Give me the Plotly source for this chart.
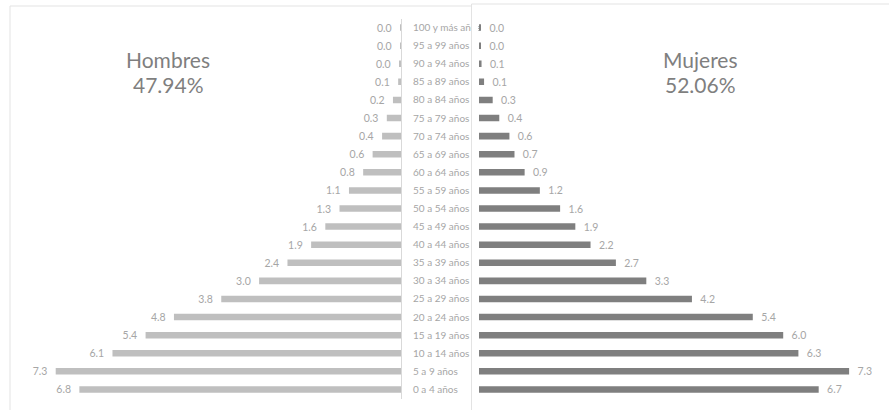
import plotly.graph_objects as go

W, H = 889, 410

categorias = ["100 y más años", "95 a 99 años", "90 a 94 años", "85 a 89 años", "80 a 84 años",
              "75 a 79 años", "70 a 74 años", "65 a 69 años", "60 a 64 años", "55 a 59 años",
              "50 a 54 años", "45 a 49 años", "40 a 44 años", "35 a 39 años", "30 a 34 años",
              "25 a 29 años", "20 a 24 años", "15 a 19 años", "10 a 14 años", "5 a 9 años", "0 a 4 años"]
hombres = [0.004, 0.01, 0.03, 0.06, 0.17, 0.3, 0.4, 0.6, 0.8, 1.1, 1.3, 1.6, 1.9, 2.4, 3.0,
           3.8, 4.8, 5.4, 6.1, 7.3, 6.8]
mujeres = [0.02, 0.03, 0.05, 0.1, 0.27, 0.4, 0.6, 0.7, 0.9, 1.2, 1.6, 1.9, 2.2, 2.7, 3.3,
           4.2, 5.4, 6.0, 6.3, 7.3, 6.7]
titulo_h = ["Hombres", "47.94%"]
titulo_m = ["Mujeres", "52.06%"]

FONT = "Lato"
LBL = "#A6A6A6"

fig = go.Figure()
fig.add_trace(go.Bar(
    y=categorias, x=hombres, orientation="h", xaxis="x", yaxis="y",
    marker=dict(color="#BFBFBF", line=dict(width=0)),
    texttemplate="%{x:.1f}\u00a0\u00a0", textposition="outside", cliponaxis=False,
    constraintext="none",
    textfont=dict(family=FONT, size=10.5, color=LBL), hoverinfo="skip", showlegend=False))
fig.add_trace(go.Bar(
    y=categorias, x=mujeres, orientation="h", xaxis="x2", yaxis="y2",
    marker=dict(color="#7F7F7F", line=dict(width=0)),
    texttemplate="\u00a0\u00a0%{x:.1f}", textposition="outside", cliponaxis=False,
    constraintext="none",
    textfont=dict(family=FONT, size=10.5, color=LBL), hoverinfo="skip", showlegend=False))

ydom = [(H - 398.5) / H, (H - 18.5) / H]
fig.update_layout(
    width=W, height=H, margin=dict(l=0, r=0, t=0, b=0),
    paper_bgcolor="white", plot_bgcolor="rgba(0,0,0,0)",
    bargap=0.64,
    font=dict(family=FONT, color=LBL),
    xaxis=dict(domain=[10 / W, 401 / W], range=[391 / 47.3, 0], visible=False, fixedrange=True),
    xaxis2=dict(domain=[479 / W, 1], range=[0, 410 / 50.7], visible=False, fixedrange=True),
    yaxis=dict(domain=ydom, anchor="x", side="right", range=[20.5, -0.5],
               showline=True, linecolor="#D9D9D9", linewidth=1, showgrid=False, zeroline=False,
               ticks="", ticklabelstandoff=9,
               tickfont=dict(family=FONT, size=10, color=LBL)),
    yaxis2=dict(domain=ydom, anchor="x2", range=[20.5, -0.5], showticklabels=False,
                showline=False, showgrid=False, zeroline=False, ticks=""),
)

shapes = [
    # clip overflow of first label under the right panel
    dict(type="rect", xref="paper", yref="paper", x0=471.5 / W, x1=478 / W,
         y0=(H - 38) / H, y1=(H - 16) / H, fillcolor="white", line=dict(width=0), layer="above"),
    # left panel frame
    dict(type="line", xref="paper", yref="paper", x0=10 / W, x1=471 / W, y0=(H - 6) / H, y1=(H - 6) / H,
         line=dict(color="#E3E3E3", width=1), layer="above"),
    dict(type="line", xref="paper", yref="paper", x0=10 / W, x1=10 / W, y0=0, y1=(H - 6) / H,
         line=dict(color="#E3E3E3", width=1), layer="above"),
    # right panel frame
    dict(type="line", xref="paper", yref="paper", x0=471.5 / W, x1=1, y0=(H - 4) / H, y1=(H - 4) / H,
         line=dict(color="#E3E3E3", width=1), layer="above"),
    dict(type="line", xref="paper", yref="paper", x0=471.5 / W, x1=471.5 / W, y0=0, y1=(H - 4) / H,
         line=dict(color="#E3E3E3", width=1), layer="above"),
]
fig.update_layout(shapes=shapes)

anns = []
for txt, yy in zip(titulo_h, [59, 85]):
    anns.append(dict(text=txt, x=168 / W, y=(H - yy) / H, xref="paper", yref="paper",
                     showarrow=False, xanchor="center", yanchor="middle",
                     font=dict(family=FONT, size=21, color="#7F7F7F")))
for txt, yy in zip(titulo_m, [59, 85]):
    anns.append(dict(text=txt, x=700 / W, y=(H - yy) / H, xref="paper", yref="paper",
                     showarrow=False, xanchor="center", yanchor="middle",
                     font=dict(family=FONT, size=21, color="#7F7F7F")))
fig.update_layout(annotations=anns)

fig.write_html("out.html", config={"displayModeBar": False},
               post_script="document.body.style.margin='0';document.body.style.overflow='hidden';")
